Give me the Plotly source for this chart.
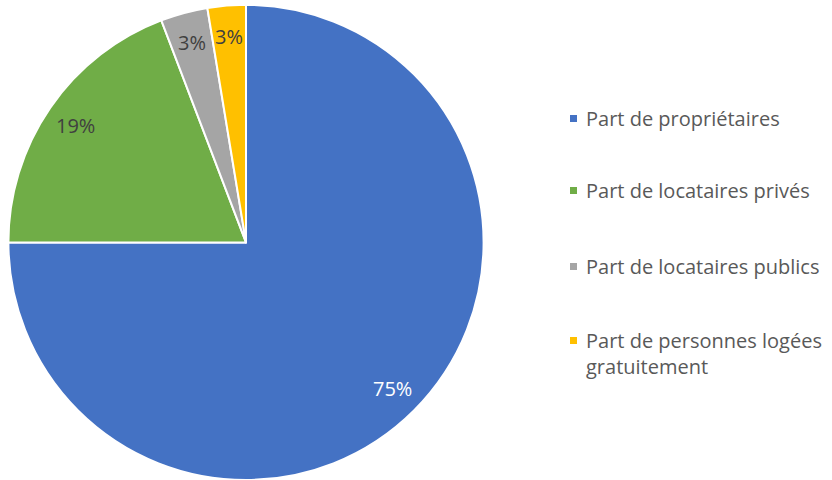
import math
import plotly.graph_objects as go

labels = ['Part de propriétaires', 'Part de locataires privés',
          'Part de locataires publics', 'Part de personnes logées<br>gratuitement']
values = [75.0, 19.2, 3.2, 2.6]
colors = ['#4472C4', '#70AD47', '#A5A5A5', '#FFC000']
text_colors = ['white', '#404040', '#404040', '#404040']

W, H = 832, 480
dom_x = [8 / W, 484 / W]
dom_y = [0.0, 0.99]

fig = go.Figure()

fig.add_trace(go.Pie(
    labels=labels,
    values=values,
    sort=False,
    direction='clockwise',
    rotation=0,
    marker=dict(colors=colors, line=dict(color='white', width=2)),
    textinfo='none',
    domain=dict(x=dom_x, y=dom_y),
    showlegend=False,
    hoverinfo='label+percent'
))

# percentage labels sit near the rim, like the Excel original
cx = (dom_x[0] + dom_x[1]) / 2 * W
cy = (dom_y[0] + dom_y[1]) / 2 * H
r = min((dom_x[1] - dom_x[0]) * W, (dom_y[1] - dom_y[0]) * H) / 2
total = sum(values)
cum = 0
for v, tc in zip(values, text_colors):
    mid = (cum + v / 2) / total * 2 * math.pi
    cum += v
    px_ = cx + 0.87 * r * math.sin(mid)
    py_ = cy + 0.87 * r * math.cos(mid)
    fig.add_annotation(text=f"{round(v / total * 100)}%", xref='paper', yref='paper',
                       x=px_ / W, y=py_ / H, showarrow=False,
                       xanchor='center', yanchor='middle',
                       font=dict(family='Open Sans', size=20, color=tc))

# Legend drawn by hand so the item spacing matches
legend_y = [118, 190, 266, 340]
for lab, col, y in zip(labels, colors, legend_y):
    fig.add_shape(type='rect', xref='paper', yref='paper',
                  x0=570 / W, x1=577 / W,
                  y0=1 - (y + 4) / H, y1=1 - (y - 3) / H,
                  fillcolor=col, line=dict(width=0))
    fig.add_annotation(text=lab, xref='paper', yref='paper',
                       x=584 / W, y=1 - (y - 15) / H,
                       xanchor='left', yanchor='top', align='left',
                       showarrow=False,
                       font=dict(family='Open Sans', size=20, color='#595959'))

fig.update_layout(
    width=W, height=H,
    margin=dict(l=0, r=0, t=0, b=0),
    paper_bgcolor='white',
    plot_bgcolor='white',
)

fig.write_html("out.html", post_script="document.body.style.margin='0px';",
               config=dict(displayModeBar=False))
